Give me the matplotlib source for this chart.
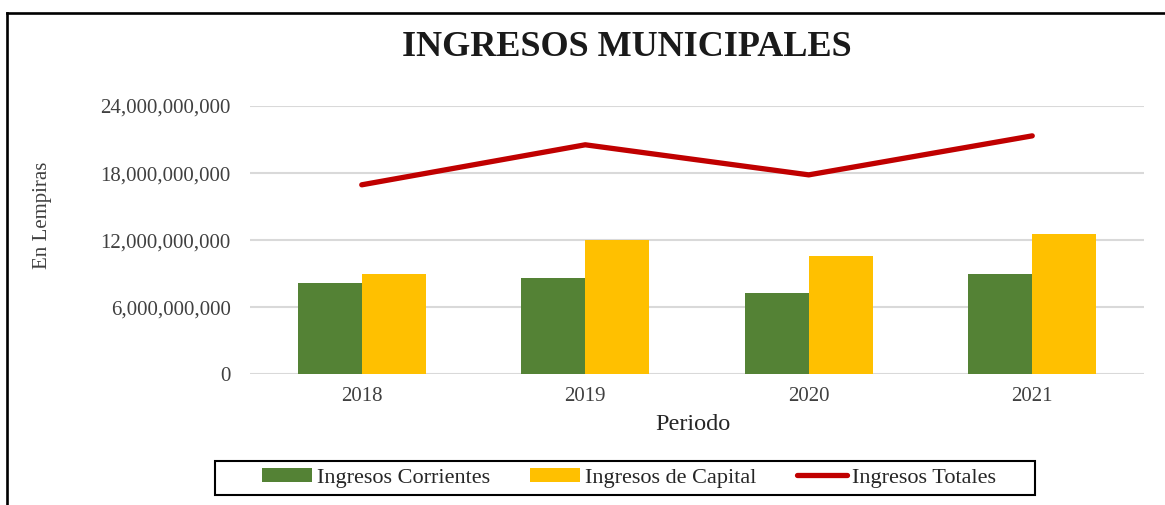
import matplotlib
matplotlib.use("Agg")
import matplotlib.pyplot as plt
from matplotlib.lines import Line2D
from matplotlib.patches import Patch, Rectangle
import numpy as np

years = ["2018", "2019", "2020", "2021"]
corrientes = [8.15e9, 8.6e9, 7.25e9, 8.95e9]
capital = [8.95e9, 12.02e9, 10.62e9, 12.56e9]
totales = [16.95e9, 20.53e9, 17.84e9, 21.33e9]
yticks = [0, 6e9, 12e9, 18e9, 24e9]
ytick_labels = ["0", "6,000,000,000", "12,000,000,000", "18,000,000,000", "24,000,000,000"]

plt.rcParams['font.family'] = ['Liberation Serif', 'DejaVu Serif']

W, H = 1165, 505
fig = plt.figure(figsize=(W / 100, H / 100), dpi=100)

def fx(px):
    return px / W

def fy(py):
    return 1 - py / H

ax = fig.add_axes([fx(250), fy(374.3), fx(1144) - fx(250), fy(106) - fy(374.3)])

x = np.arange(len(years))
bw = 0.286
green = "#548235"
gold = "#FFC000"
red = "#C00000"
ax.bar(x - bw / 2, corrientes, bw, color=green, zorder=3)
ax.bar(x + bw / 2, capital, bw, color=gold, zorder=3)
ax.plot(x, totales, color=red, lw=3.8, solid_capstyle='round', solid_joinstyle='round', zorder=4)

ax.set_xlim(-0.5, len(years) - 0.5)
ax.set_ylim(0, 24e9)
ax.set_yticks(yticks)
ax.set_yticklabels(ytick_labels)
ax.set_xticks(x)
ax.set_xticklabels(years)
ax.tick_params(axis='both', length=0, labelsize=15, colors='#404040')
ax.tick_params(axis='y', pad=14)
ax.tick_params(axis='x', pad=9)
ax.grid(axis='y', color='#d9d9d9', lw=1.5, zorder=0)
for s in ax.spines.values():
    s.set_visible(False)

fig.text(fx(693), fy(425), "Periodo", ha='center', va='center', fontsize=17.5, color='#262626')
fig.text(fx(42), fy(215), "En Lempiras", ha='center', va='center', rotation=90, fontsize=15, color='#404040')
fig.text(fx(627), fy(48), "INGRESOS MUNICIPALES", ha='center', va='center', fontsize=26, fontweight='bold', color='#1a1a1a')

# outer border
fig.add_artist(Line2D([fx(6.5), fx(1165)], [fy(12.5), fy(12.5)], color='black', lw=1.9, transform=fig.transFigure))
fig.add_artist(Line2D([fx(6.5), fx(6.5)], [fy(12.5), fy(505)], color='black', lw=1.9, transform=fig.transFigure))

handles = [Patch(facecolor=green), Patch(facecolor=gold), Line2D([0], [0], color=red, lw=3.8, solid_capstyle='round')]
labels = ["Ingresos Corrientes", "Ingresos de Capital", "Ingresos Totales"]
leg = fig.legend(handles, labels, loc='center', bbox_to_anchor=(fx(629), fy(478)), ncol=3,
                 fontsize=16, frameon=False, handlelength=2.25, handleheight=0.6,
                 handletextpad=0.22, columnspacing=1.8, borderpad=0.3, borderaxespad=0)
for t in leg.get_texts():
    t.set_color('#262626')

# legend box
fig.add_artist(Rectangle((fx(215), fy(495)), fx(1035) - fx(215), fy(461) - fy(495),
                         transform=fig.transFigure, fill=False, edgecolor='black', lw=1.5))

fig.savefig("out.png", dpi=100)
